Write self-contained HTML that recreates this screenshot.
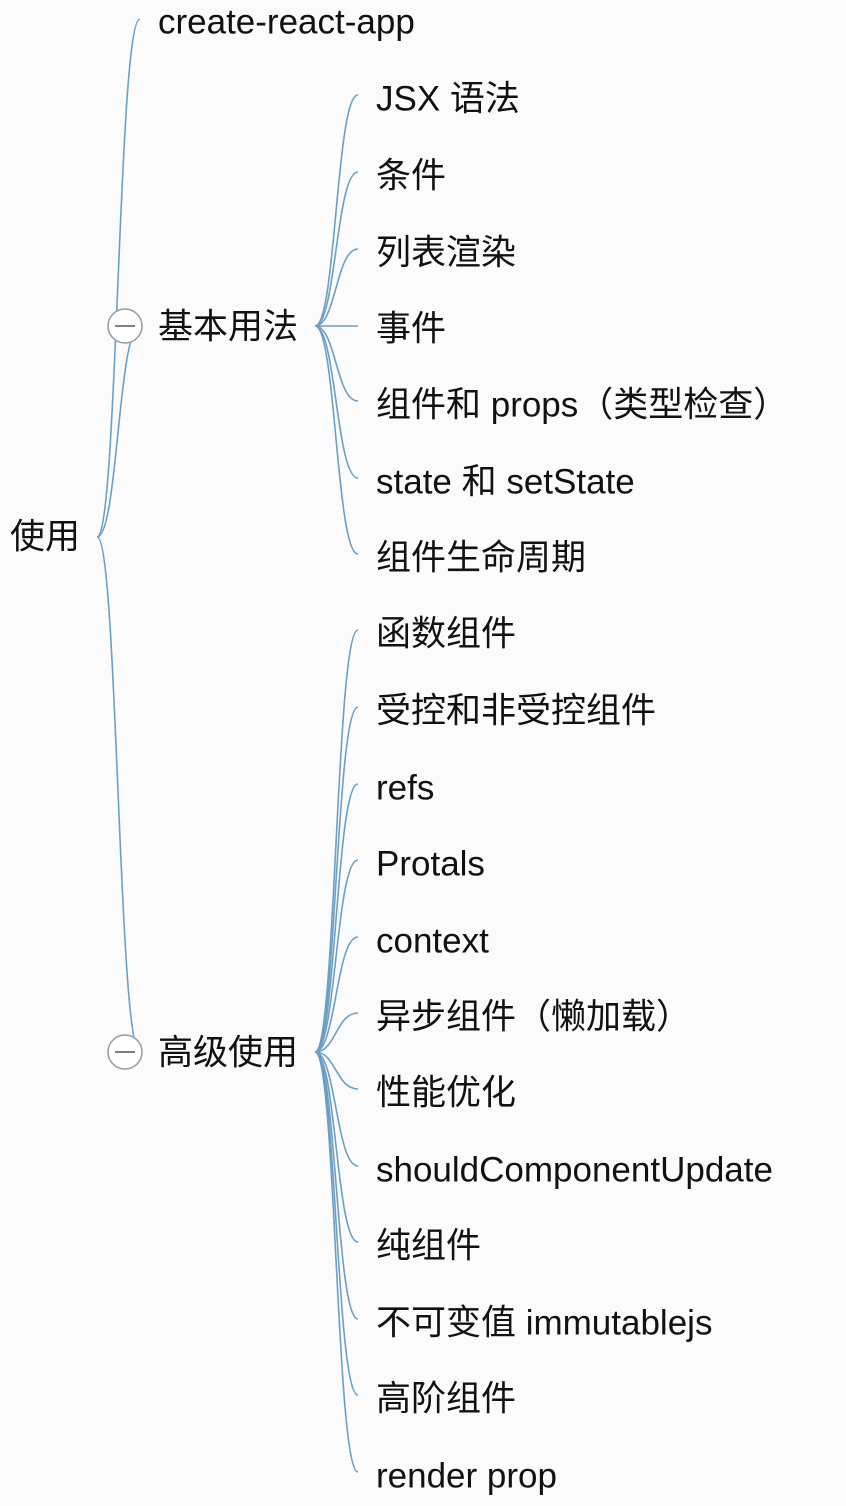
<!DOCTYPE html>
<html><head><meta charset="utf-8"><style>
html,body{margin:0;padding:0;background:#fbfbfb;}
svg{display:block}
text{font-family:"Liberation Sans","Noto Sans CJK SC",sans-serif;font-size:35px;fill:#111;dominant-baseline:central}
path{fill:none;stroke:#6c9fc6;stroke-width:1.6}
</style></head><body>
<svg width="846" height="1506" viewBox="0 0 846 1506" xmlns="http://www.w3.org/2000/svg">
<path d="M97 537 C118 537 118 19 140 19"/>
<path d="M97 537 C118 537 118 326 140 326"/>
<path d="M97 537 C118 537 118 1052 140 1052"/>
<g>
<path d="M315 326 C336 326 336 95 358 95"/>
<path d="M315 326 C336 326 336 172 358 172"/>
<path d="M315 326 C336 326 336 249 358 249"/>
<path d="M315 326 C336 326 336 326 358 326"/>
<path d="M315 326 C336 326 336 401 358 401"/>
<path d="M315 326 C336 326 336 478 358 478"/>
<path d="M315 326 C336 326 336 554 358 554"/>
</g>
<g>
<path d="M315 1052 C336 1052 336 630 358 630"/>
<path d="M315 1052 C336 1052 336 707 358 707"/>
<path d="M315 1052 C336 1052 336 784 358 784"/>
<path d="M315 1052 C336 1052 336 860 358 860"/>
<path d="M315 1052 C336 1052 336 937 358 937"/>
<path d="M315 1052 C336 1052 336 1013 358 1013"/>
<path d="M315 1052 C336 1052 336 1089 358 1089"/>
<path d="M315 1052 C336 1052 336 1166 358 1166"/>
<path d="M315 1052 C336 1052 336 1242 358 1242"/>
<path d="M315 1052 C336 1052 336 1319 358 1319"/>
<path d="M315 1052 C336 1052 336 1395 358 1395"/>
<path d="M315 1052 C336 1052 336 1472 358 1472"/>
</g>
<g fill="#fff" stroke="#999" stroke-width="1.5">
<circle cx="125" cy="326" r="17"/>
<circle cx="125" cy="1052" r="17"/>
</g>
<line x1="115" y1="326" x2="135" y2="326" stroke="#555" stroke-width="1.5"/>
<line x1="115" y1="1052" x2="135" y2="1052" stroke="#555" stroke-width="1.5"/>
<text x="10" y="537">使用</text>
<text x="158" y="22">create-react-app</text>
<text x="158" y="327">基本用法</text>
<text x="158" y="1053">高级使用</text>
<text x="376" y="99">JSX 语法</text>
<text x="376" y="176">条件</text>
<text x="376" y="253">列表渲染</text>
<text x="376" y="329">事件</text>
<text x="376" y="405">组件和 props（类型检查）</text>
<text x="376" y="482">state 和 setState</text>
<text x="376" y="558">组件生命周期</text>
<text x="376" y="634">函数组件</text>
<text x="376" y="711">受控和非受控组件</text>
<text x="376" y="788">refs</text>
<text x="376" y="864">Protals</text>
<text x="376" y="941">context</text>
<text x="376" y="1017">异步组件（懒加载）</text>
<text x="376" y="1093">性能优化</text>
<text x="376" y="1170">shouldComponentUpdate</text>
<text x="376" y="1246">纯组件</text>
<text x="376" y="1323">不可变值 immutablejs</text>
<text x="376" y="1399">高阶组件</text>
<text x="376" y="1476">render prop</text>
</svg>
</body></html>
